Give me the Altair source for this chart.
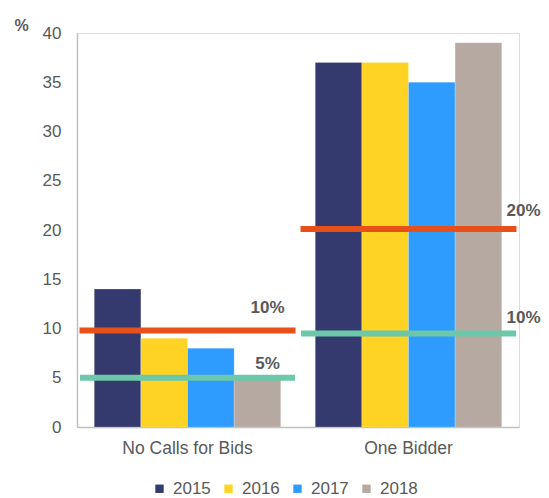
import altair as alt
import pandas as pd

categories = ["No Calls for Bids", "One Bidder"]
years = ["2015", "2016", "2017", "2018"]
vals_2015 = [14, 37]
vals_2016 = [9, 37]
vals_2017 = [8, 35]
vals_2018 = [5, 39]
colors = ["#353A6E", "#FFD324", "#2E9BFF", "#B5A9A1"]

# reference lines (target thresholds) per category
orange_vals = [9.8, 20.1]
orange_labels = ["10%", "20%"]
green_vals = [5.0, 9.5]
green_labels = ["5%", "10%"]

rows = []
for i, c in enumerate(categories):
    for y, v in zip(years, [vals_2015[i], vals_2016[i], vals_2017[i], vals_2018[i]]):
        rows.append({"category": c, "year": y, "value": v})
bars_df = pd.DataFrame(rows)

lines_df = pd.DataFrame(
    [{"category": c, "value": v, "label": l, "kind": "orange"} for c, v, l in zip(categories, orange_vals, orange_labels)]
    + [{"category": c, "value": v, "label": l, "kind": "green"} for c, v, l in zip(categories, green_vals, green_labels)]
)

FONT = "Liberation Sans"
GRAY = "#595959"

x_enc = alt.X(
    "category:N",
    sort=categories,
    scale=alt.Scale(paddingInner=0, paddingOuter=0),
    axis=alt.Axis(title=None, labelAngle=0, ticks=False, labelPadding=12,
                  labelFontSize=17.5, labelColor=GRAY, labelFont=FONT,
                  domainColor="#BFBFBF", domainWidth=1.5),
)
y_enc = alt.Y(
    "value:Q",
    scale=alt.Scale(domain=[0, 40], nice=False),
    axis=alt.Axis(values=[0, 5, 10, 15, 20, 25, 30, 35, 40], ticks=False, grid=False,
                  labelPadding=16, labelFontSize=17, labelColor=GRAY, labelFont=FONT,
                  domainColor="#BFBFBF", domainWidth=1.5,
                  title="%", titleAngle=0, titleX=-56, titleY=-8, titleAlign="center",
                  titleBaseline="middle", titleFontSize=16, titleFontWeight="bold",
                  titleColor=GRAY, titleFont=FONT),
)

bars = alt.Chart(bars_df).mark_bar(stroke="white", strokeWidth=0.5, strokeOpacity=0.4).encode(
    x=x_enc,
    y=y_enc,
    xOffset=alt.XOffset("year:N", sort=years, scale=alt.Scale(paddingInner=0, paddingOuter=0.37)),
    color=alt.Color(
        "year:N", sort=years, scale=alt.Scale(domain=years, range=colors),
        legend=alt.Legend(title=None, orient="none", direction="horizontal",
                          legendX=74, legendY=447, symbolType="square", symbolSize=70,
                          symbolStrokeWidth=0, labelFontSize=17, labelColor=GRAY,
                          labelFont=FONT, labelOffset=5, columnPadding=9),
    ),
)

orange = alt.Chart(lines_df).transform_filter(alt.datum.kind == "orange").mark_tick(
    color="#E8501A", thickness=6, size=216, opacity=1
).encode(x=alt.X("category:N", sort=categories), y="value:Q")
green = alt.Chart(lines_df).transform_filter(alt.datum.kind == "green").mark_tick(
    color="#6DC8A9", thickness=6, size=215, opacity=1
).encode(x=alt.X("category:N", sort=categories), y="value:Q")

label_layers = []
offsets = {
    ("orange", categories[0]): (80, -22),
    ("green", categories[0]): (80, -14),
    ("orange", categories[1]): (115, -18),
    ("green", categories[1]): (115, -15),
}
for (kind, cat), (dx, dy) in offsets.items():
    label_layers.append(
        alt.Chart(lines_df)
        .transform_filter((alt.datum.kind == kind) & (alt.datum.category == cat))
        .mark_text(fontSize=17, fontWeight="bold", color=GRAY, font=FONT, dx=dx, dy=dy,
                   align="center", baseline="middle")
        .encode(x=alt.X("category:N", sort=categories), y="value:Q", text="label:N")
    )

chart = alt.layer(bars, orange, green, *label_layers).properties(
    width=442, height=394,
    padding={"left": 69, "top": 25, "right": 22, "bottom": 72},
    autosize=alt.AutoSizeParams(type="none"),
).configure_view(stroke=None).configure(background="white")

chart.save("out.html", embed_options={"renderer": "svg", "actions": False})
